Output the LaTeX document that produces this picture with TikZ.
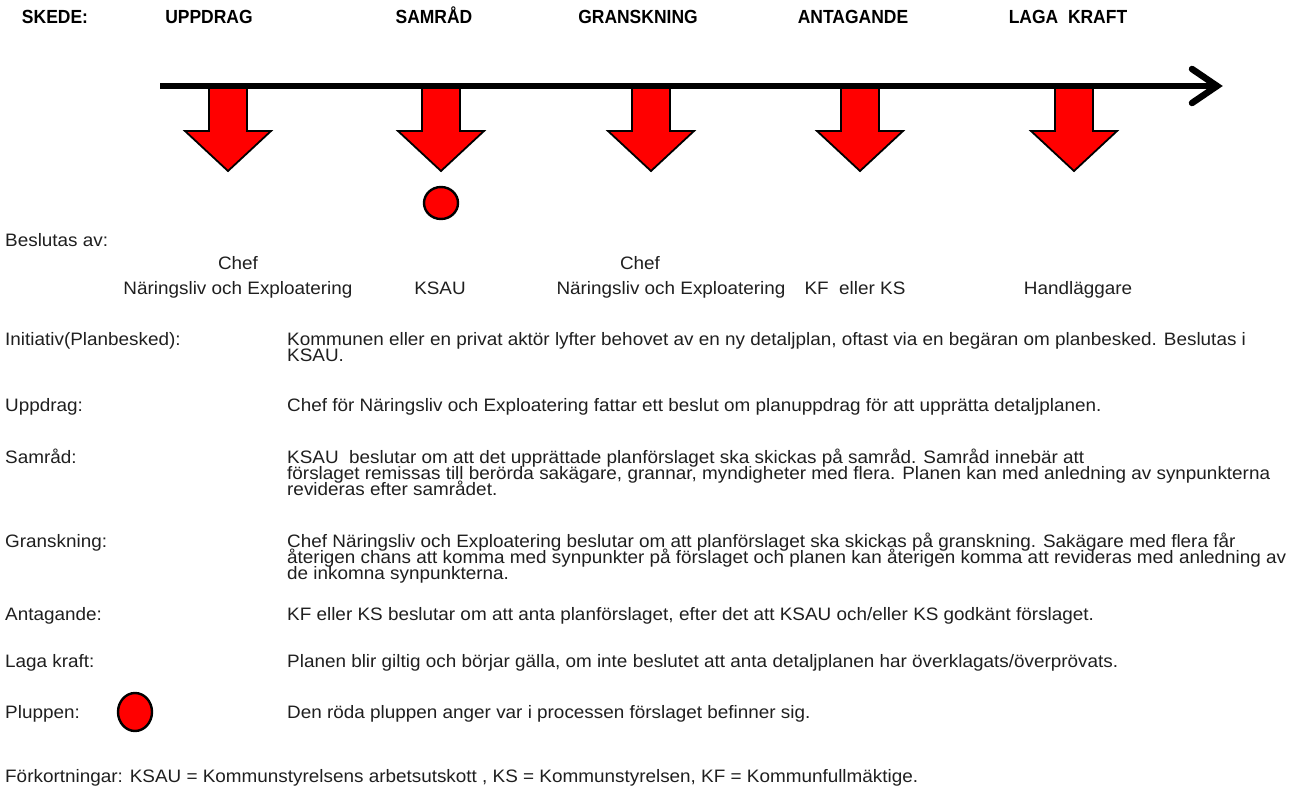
\documentclass[tikz,border=0pt]{standalone}
\usepackage{fontspec}
\setmainfont{Liberation Sans}[FakeStretch=1.05]
\newfontfamily\hdrfont{Liberation Sans}[FakeStretch=0.92,BoldFont={Liberation Sans Bold}]
\begin{document}
\begin{tikzpicture}[x=1pt,y=-1pt,
  hdr/.style={font=\hdrfont\bfseries\fontsize{19}{22}\selectfont, inner sep=0pt, anchor=base},
  txt/.style={font=\fontsize{18}{16}\selectfont, inner sep=0pt, anchor=base west, text=black!88},
  ctr/.style={font=\fontsize{18}{16}\selectfont, inner sep=0pt, anchor=base, text=black!88},
  redarrow/.style={fill=red, draw=black, line width=1.8pt, line join=miter},
  plupp/.style={fill=red, draw=black, line width=2.4pt}]
\useasboundingbox (0,0) rectangle (1303,792);
% headers
\node[hdr] (skede) at (55,24) {SKEDE:};
\node[hdr] (h1) at (209,24) {UPPDRAG};
\node[hdr] (h2) at (434,24) {SAMRÅD};
\node[hdr] (h3) at (638,24) {GRANSKNING};
\node[hdr] (h4) at (853,24) {ANTAGANDE};
\node[hdr] (h5) at (1068,24) {LAGA\ \ KRAFT};
% red arrows
\foreach \cx/\nm in {228/a1,441/a2,651/a3,860/a4,1074/a5}{
  \draw[redarrow] (\cx-19,88) -- (\cx+19,88) -- (\cx+19,131) -- (\cx+43,131)
     -- (\cx,171) -- (\cx-43,131) -- (\cx-19,131) -- cycle;
  \coordinate (\nm) at (\cx,88);
}
% timeline
\coordinate (tl0) at (160,86);
\coordinate (tl1) at (1217,86);
\draw[line width=6.5pt] (tl0) -- (tl1);
\draw[line width=6.5pt, line cap=round, line join=miter] (1192,69) -- (tl1) -- (1192,103);
% pluppen on timeline
\draw[plupp] (441,203) ellipse [x radius=17, y radius=16];
% beslutas
\node[txt] (besl) at (5,246) {Beslutas av:};
\node[ctr] (b1a) at (238,269) {Chef};
\node[ctr] (b1b) at (238,294) {Näringsliv och Exploatering};
\node[ctr] (b2) at (440,294) {KSAU};
\node[ctr] (b3a) at (640,269) {Chef};
\node[ctr] (b3b) at (671,294) {Näringsliv och Exploatering};
\node[ctr] (b4) at (855,294) {KF\ \ eller KS};
\node[ctr] (b5) at (1078,294) {Handläggare};
% left labels
\node[txt] (l1) at (5,345) {Initiativ(Planbesked):};
\node[txt] (l2) at (5,411) {Uppdrag:};
\node[txt] (l3) at (5,463) {Samråd:};
\node[txt] (l4) at (5,547) {Granskning:};
\node[txt] (l5) at (5,620) {Antagande:};
\node[txt] (l6) at (5,667) {Laga kraft:};
\node[txt] (l7) at (5,718) {Pluppen:};
\draw[plupp] (135,712) ellipse [x radius=17, y radius=19];
% descriptions
\node[txt] (d1) at (287,345) {Kommunen eller en privat aktör lyfter behovet av en ny detaljplan, oftast via en begäran om planbesked. Beslutas i};
\node[txt] (d1b) at (287,361) {KSAU.};
\node[txt] (d2) at (287,411) {Chef för Näringsliv och Exploatering fattar ett beslut om planuppdrag för att upprätta detaljplanen.};
\node[txt] (d3) at (287,463) {KSAU\ \ beslutar om att det upprättade planförslaget ska skickas på samråd. Samråd innebär att};
\node[txt] (d3b) at (287,479) {förslaget remissas till berörda sakägare, grannar, myndigheter med flera. Planen kan med anledning av synpunkterna};
\node[txt] (d3c) at (287,495) {revideras efter samrådet.};
\node[txt] (d4) at (287,547) {Chef Näringsliv och Exploatering beslutar om att planförslaget ska skickas på granskning. Sakägare med flera får};
\node[txt] (d4b) at (287,563) {återigen chans att komma med synpunkter på förslaget och planen kan återigen komma att revideras med anledning av};
\node[txt] (d4c) at (287,579) {de inkomna synpunkterna.};
\node[txt] (d5) at (287,620) {KF eller KS beslutar om att anta planförslaget, efter det att KSAU och/eller KS godkänt förslaget.};
\node[txt] (d6) at (287,667) {Planen blir giltig och börjar gälla, om inte beslutet att anta detaljplanen har överklagats/överprövats.};
\node[txt] (d7) at (287,718) {Den röda pluppen anger var i processen förslaget befinner sig.};
\node[txt] (fk) at (5,782) {Förkortningar: KSAU = Kommunstyrelsens arbetsutskott , KS = Kommunstyrelsen, KF = Kommunfullmäktige.};
\end{tikzpicture}
\end{document}
